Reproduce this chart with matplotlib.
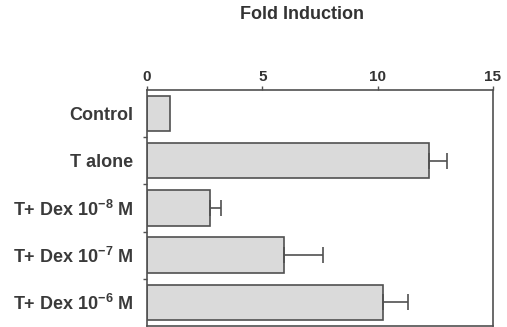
import numpy as np
import matplotlib
matplotlib.use('Agg')
import matplotlib.pyplot as plt

plt.rcParams['font.family'] = ['Liberation Sans', 'DejaVu Sans']
plt.rcParams['mathtext.fontset'] = 'custom'
plt.rcParams['mathtext.rm'] = 'Liberation Sans:bold'
plt.rcParams['mathtext.default'] = 'rm'

# data
labels = ['Control', 'T alone', 'T+ Dex 10$^{-8}$ M', 'T+ Dex 10$^{-7}$ M', 'T+ Dex 10$^{-6}$ M']
fold = [1.0, 12.25, 2.75, 5.95, 10.25]
err = [0.0, 0.75, 0.45, 1.7, 1.05]
xticks = [0, 5, 10, 15]

fig = plt.figure(figsize=(5.07, 3.27), dpi=100)
ax = fig.add_axes([0.290, 0.003, 0.682, 0.722])

ypos = np.arange(len(labels))
ax.barh(ypos, fold, height=0.75, color='#dadada', edgecolor='#505050', linewidth=1.2, zorder=2)

# only the upper half of each error bar is drawn, and none for the control
has_err = np.array(err) > 0
ax.errorbar(np.array(fold)[has_err], ypos[has_err],
            xerr=[np.zeros(has_err.sum()), np.array(err)[has_err]], fmt='none',
            ecolor='#505050', elinewidth=1.2, capsize=6, capthick=1.2, zorder=3)

ax.set_xlim(0, 15)
ax.set_ylim(len(labels) - 0.5, -0.5)
ax.xaxis.tick_top()
ax.set_xticks(xticks)
ax.set_xticklabels([str(t) for t in xticks], fontsize=11, fontweight='bold', color='#333333')
ax.tick_params(axis='x', direction='out', length=3, width=1, color='#505050', pad=1)

ax.set_yticks(ypos)
ax.set_yticklabels(labels, fontsize=13, fontweight='bold', color='#3a3a3a')
ax.tick_params(axis='y', length=0, pad=10)
ax.set_yticks(np.arange(len(labels) - 1) + 0.5, minor=True)
ax.tick_params(axis='y', which='minor', direction='out', length=3, width=1, color='#505050')

for s in ax.spines.values():
    s.set_color('#505050')
    s.set_linewidth(1.2)

fig.text(0.596, 0.955, 'Fold Induction', ha='center', va='center', fontsize=13,
         fontweight='bold', color='#333333')

fig.savefig('out.png', dpi=100)
